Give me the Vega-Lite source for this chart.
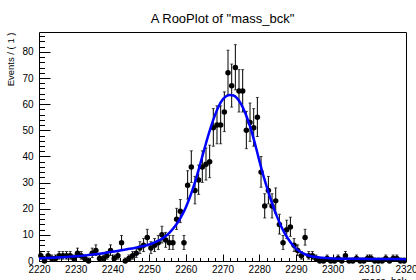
{
  "$schema": "https://vega.github.io/schema/vega-lite/v6.json",
  "width": 367,
  "height": 229,
  "autosize": "none",
  "padding": {"left": 39, "top": 32, "right": 10, "bottom": 19},
  "background": "white",
  "title": {
    "text": "A RooPlot of \"mass_bck\"",
    "font": "Liberation Sans",
    "fontSize": 13,
    "fontWeight": "normal",
    "color": "black",
    "anchor": "middle",
    "frame": "group",
    "baseline": "alphabetic",
    "offset": -4
  },
  "config": {
    "view": {"stroke": "black", "strokeWidth": 1},
    "axis": {
      "domain": false,
      "grid": false,
      "labelFont": "Liberation Sans",
      "labelFontSize": 10,
      "labelColor": "black",
      "tickColor": "black",
      "tickWidth": 1,
      "titleFont": "Liberation Sans",
      "titleFontWeight": "normal",
      "titleColor": "black",
      "labelFlush": false,
      "labelOverlap": false
    }
  },
  "datasets": {
    "pts": [
      {"m": 2220.5, "n": 2, "lo": 0.71, "hi": 3.63},
      {"m": 2221.5, "n": 0, "lo": 0, "hi": 1.15},
      {"m": 2222.5, "n": 2, "lo": 0.71, "hi": 3.63},
      {"m": 2223.5, "n": 1, "lo": 0.17, "hi": 2.3},
      {"m": 2224.5, "n": 1, "lo": 0.17, "hi": 2.3},
      {"m": 2225.5, "n": 2, "lo": 0.71, "hi": 3.63},
      {"m": 2226.5, "n": 2, "lo": 0.71, "hi": 3.63},
      {"m": 2227.5, "n": 2, "lo": 0.71, "hi": 3.63},
      {"m": 2228.5, "n": 2, "lo": 0.71, "hi": 3.63},
      {"m": 2229.5, "n": 1, "lo": 0.17, "hi": 2.3},
      {"m": 2230.5, "n": 3, "lo": 1.37, "hi": 4.92},
      {"m": 2231.5, "n": 2, "lo": 0.71, "hi": 3.63},
      {"m": 2232.5, "n": 1, "lo": 0.17, "hi": 2.3},
      {"m": 2233.5, "n": 0, "lo": 0, "hi": 1.15},
      {"m": 2234.5, "n": 3, "lo": 1.37, "hi": 4.92},
      {"m": 2235.5, "n": 4, "lo": 2.09, "hi": 6.18},
      {"m": 2236.5, "n": 1, "lo": 0.17, "hi": 2.3},
      {"m": 2237.5, "n": 1, "lo": 0.17, "hi": 2.3},
      {"m": 2238.5, "n": 2, "lo": 0.71, "hi": 3.63},
      {"m": 2239.5, "n": 4, "lo": 2.09, "hi": 6.18},
      {"m": 2240.5, "n": 1, "lo": 0.17, "hi": 2.3},
      {"m": 2241.5, "n": 2, "lo": 0.71, "hi": 3.63},
      {"m": 2242.5, "n": 7, "lo": 4.42, "hi": 9.77},
      {"m": 2243.5, "n": 0, "lo": 0, "hi": 1.15},
      {"m": 2244.5, "n": 1, "lo": 0.17, "hi": 2.3},
      {"m": 2245.5, "n": 2, "lo": 0.71, "hi": 3.63},
      {"m": 2246.5, "n": 3, "lo": 1.37, "hi": 4.92},
      {"m": 2247.5, "n": 5, "lo": 2.84, "hi": 7.39},
      {"m": 2248.5, "n": 6, "lo": 3.62, "hi": 8.58},
      {"m": 2249.5, "n": 9, "lo": 6.06, "hi": 12.12},
      {"m": 2250.5, "n": 5, "lo": 2.84, "hi": 7.39},
      {"m": 2251.5, "n": 6, "lo": 3.62, "hi": 8.58},
      {"m": 2252.5, "n": 7, "lo": 4.42, "hi": 9.77},
      {"m": 2253.5, "n": 10, "lo": 6.89, "hi": 13.28},
      {"m": 2254.5, "n": 8, "lo": 5.23, "hi": 10.94},
      {"m": 2255.5, "n": 7, "lo": 4.42, "hi": 9.77},
      {"m": 2256.5, "n": 7, "lo": 4.42, "hi": 9.77},
      {"m": 2257.5, "n": 16, "lo": 12.05, "hi": 20.15},
      {"m": 2258.5, "n": 19, "lo": 14.69, "hi": 23.51},
      {"m": 2259.5, "n": 7, "lo": 4.42, "hi": 9.77},
      {"m": 2260.5, "n": 29, "lo": 23.67, "hi": 34.54},
      {"m": 2261.5, "n": 36, "lo": 30.05, "hi": 42.15},
      {"m": 2262.5, "n": 27, "lo": 21.85, "hi": 32.35},
      {"m": 2263.5, "n": 31, "lo": 25.48, "hi": 36.72},
      {"m": 2264.5, "n": 36, "lo": 30.05, "hi": 42.15},
      {"m": 2265.5, "n": 37, "lo": 30.97, "hi": 43.23},
      {"m": 2266.5, "n": 38, "lo": 31.89, "hi": 44.31},
      {"m": 2267.5, "n": 51, "lo": 43.91, "hi": 58.29},
      {"m": 2268.5, "n": 52, "lo": 44.84, "hi": 59.36},
      {"m": 2269.5, "n": 52, "lo": 44.84, "hi": 59.36},
      {"m": 2270.5, "n": 57, "lo": 49.5, "hi": 64.7},
      {"m": 2271.5, "n": 72, "lo": 63.57, "hi": 80.63},
      {"m": 2272.5, "n": 67, "lo": 58.87, "hi": 75.34},
      {"m": 2273.5, "n": 74, "lo": 65.45, "hi": 82.75},
      {"m": 2274.5, "n": 65, "lo": 56.99, "hi": 73.21},
      {"m": 2275.5, "n": 65, "lo": 56.99, "hi": 73.21},
      {"m": 2276.5, "n": 50, "lo": 42.98, "hi": 57.22},
      {"m": 2277.5, "n": 53, "lo": 45.77, "hi": 60.43},
      {"m": 2278.5, "n": 51, "lo": 43.91, "hi": 58.29},
      {"m": 2279.5, "n": 55, "lo": 47.63, "hi": 62.57},
      {"m": 2280.5, "n": 34, "lo": 28.22, "hi": 39.98},
      {"m": 2281.5, "n": 21, "lo": 16.47, "hi": 25.73},
      {"m": 2282.5, "n": 27, "lo": 21.85, "hi": 32.35},
      {"m": 2283.5, "n": 21, "lo": 16.47, "hi": 25.73},
      {"m": 2284.5, "n": 23, "lo": 18.25, "hi": 27.95},
      {"m": 2285.5, "n": 14, "lo": 10.31, "hi": 17.89},
      {"m": 2286.5, "n": 7, "lo": 4.42, "hi": 9.77},
      {"m": 2287.5, "n": 12, "lo": 8.59, "hi": 15.61},
      {"m": 2288.5, "n": 13, "lo": 9.44, "hi": 16.76},
      {"m": 2289.5, "n": 6, "lo": 3.62, "hi": 8.58},
      {"m": 2290.5, "n": 4, "lo": 2.09, "hi": 6.18},
      {"m": 2291.5, "n": 2, "lo": 0.71, "hi": 3.63},
      {"m": 2292.5, "n": 9, "lo": 6.06, "hi": 12.12},
      {"m": 2293.5, "n": 2, "lo": 0.71, "hi": 3.63},
      {"m": 2294.5, "n": 2, "lo": 0.71, "hi": 3.63},
      {"m": 2295.5, "n": 1, "lo": 0.17, "hi": 2.3},
      {"m": 2296.5, "n": 0, "lo": 0, "hi": 1.15},
      {"m": 2297.5, "n": 0, "lo": 0, "hi": 1.15},
      {"m": 2298.5, "n": 1, "lo": 0.17, "hi": 2.3},
      {"m": 2299.5, "n": 0, "lo": 0, "hi": 1.15},
      {"m": 2300.5, "n": 0, "lo": 0, "hi": 1.15},
      {"m": 2301.5, "n": 1, "lo": 0.17, "hi": 2.3},
      {"m": 2302.5, "n": 0, "lo": 0, "hi": 1.15},
      {"m": 2303.5, "n": 2, "lo": 0.71, "hi": 3.63},
      {"m": 2304.5, "n": 0, "lo": 0, "hi": 1.15},
      {"m": 2305.5, "n": 0, "lo": 0, "hi": 1.15},
      {"m": 2306.5, "n": 1, "lo": 0.17, "hi": 2.3},
      {"m": 2307.5, "n": 0, "lo": 0, "hi": 1.15},
      {"m": 2308.5, "n": 0, "lo": 0, "hi": 1.15},
      {"m": 2309.5, "n": 1, "lo": 0.17, "hi": 2.3},
      {"m": 2310.5, "n": 1, "lo": 0.17, "hi": 2.3},
      {"m": 2311.5, "n": 0, "lo": 0, "hi": 1.15},
      {"m": 2312.5, "n": 0, "lo": 0, "hi": 1.15},
      {"m": 2313.5, "n": 0, "lo": 0, "hi": 1.15},
      {"m": 2314.5, "n": 1, "lo": 0.17, "hi": 2.3},
      {"m": 2315.5, "n": 0, "lo": 0, "hi": 1.15},
      {"m": 2316.5, "n": 1, "lo": 0.17, "hi": 2.3},
      {"m": 2317.5, "n": 1, "lo": 0.17, "hi": 2.3},
      {"m": 2318.5, "n": 0, "lo": 0, "hi": 1.15},
      {"m": 2319.5, "n": 0, "lo": 0, "hi": 1.15}
    ],
    "fit": [
      {"m": 2220, "f": 1.0}, {"m": 2222, "f": 1.1}, {"m": 2224, "f": 1.25},
      {"m": 2226, "f": 1.4}, {"m": 2228, "f": 1.6}, {"m": 2230, "f": 1.8},
      {"m": 2232, "f": 2.05}, {"m": 2234, "f": 2.35}, {"m": 2236, "f": 2.7},
      {"m": 2238, "f": 3.1}, {"m": 2240, "f": 3.5}, {"m": 2242, "f": 4.0},
      {"m": 2244, "f": 4.5}, {"m": 2246, "f": 5.0}, {"m": 2248, "f": 5.6},
      {"m": 2250, "f": 6.3}, {"m": 2251, "f": 6.8}, {"m": 2252, "f": 7.4},
      {"m": 2253, "f": 8.1}, {"m": 2254, "f": 9.0}, {"m": 2255, "f": 10.1},
      {"m": 2256, "f": 11.5}, {"m": 2257, "f": 13.2}, {"m": 2258, "f": 15.2},
      {"m": 2259, "f": 17.6}, {"m": 2260, "f": 20.5}, {"m": 2261, "f": 24.0},
      {"m": 2262, "f": 28.0}, {"m": 2263, "f": 32.5}, {"m": 2264, "f": 37.5},
      {"m": 2265, "f": 42.5}, {"m": 2266, "f": 47.5}, {"m": 2267, "f": 52.0},
      {"m": 2268, "f": 56.0}, {"m": 2269, "f": 59.3}, {"m": 2270, "f": 61.7},
      {"m": 2271, "f": 63.0}, {"m": 2272, "f": 63.5}, {"m": 2273, "f": 63.3},
      {"m": 2274, "f": 62.2}, {"m": 2275, "f": 60.2}, {"m": 2276, "f": 57.3},
      {"m": 2277, "f": 53.6}, {"m": 2278, "f": 49.2}, {"m": 2279, "f": 44.1},
      {"m": 2280, "f": 38.6}, {"m": 2281, "f": 33.3}, {"m": 2282, "f": 28.6},
      {"m": 2283, "f": 24.2}, {"m": 2284, "f": 20.1}, {"m": 2285, "f": 16.5},
      {"m": 2286, "f": 13.2}, {"m": 2287, "f": 10.5}, {"m": 2288, "f": 8.2},
      {"m": 2289, "f": 6.3}, {"m": 2290, "f": 4.8}, {"m": 2291, "f": 3.7},
      {"m": 2292, "f": 2.9}, {"m": 2293, "f": 2.3}, {"m": 2294, "f": 1.9},
      {"m": 2295, "f": 1.6}, {"m": 2296, "f": 1.4}, {"m": 2297, "f": 1.25},
      {"m": 2298, "f": 1.15}, {"m": 2300, "f": 1.0}, {"m": 2305, "f": 0.88},
      {"m": 2310, "f": 0.8}, {"m": 2315, "f": 0.75}, {"m": 2320, "f": 0.7}
    ]
  },
  "resolve": {"axis": {"x": "independent", "y": "independent"}},
  "layer": [
    {
      "data": {"name": "pts"},
      "mark": {"type": "rule", "color": "black", "strokeWidth": 1},
      "encoding": {
        "x": {
          "field": "m", "type": "quantitative",
          "scale": {"domain": [2220, 2320], "nice": false, "zero": false},
          "axis": {
            "orient": "bottom",
            "values": [2220, 2230, 2240, 2250, 2260, 2270, 2280, 2290, 2300, 2310, 2320],
            "format": "d",
            "tickSize": -7,
            "labelPadding": 10,
            "title": "mass_bck",
            "titleFontSize": 10,
            "titleAnchor": "end",
            "titleAlign": "right",
            "titlePadding": 2
          }
        },
        "y": {
          "field": "lo", "type": "quantitative",
          "scale": {"domain": [0, 87.6], "nice": false, "zero": true},
          "axis": {
            "orient": "left",
            "values": [0, 10, 20, 30, 40, 50, 60, 70, 80],
            "tickSize": -11,
            "labelPadding": 17,
            "title": "Events / ( 1 )",
            "titleFontSize": 9.5,
            "titleAnchor": "end",
            "titlePadding": 6
          }
        },
        "y2": {"field": "hi"}
      }
    },
    {
      "data": {"name": "pts"},
      "mark": {"type": "tick", "orient": "horizontal", "size": 3, "thickness": 1, "color": "black"},
      "encoding": {
        "x": {"field": "m", "type": "quantitative", "axis": null},
        "y": {"field": "lo", "type": "quantitative", "axis": null}
      }
    },
    {
      "data": {"name": "pts"},
      "mark": {"type": "tick", "orient": "horizontal", "size": 3, "thickness": 1, "color": "black"},
      "encoding": {
        "x": {"field": "m", "type": "quantitative", "axis": null},
        "y": {"field": "hi", "type": "quantitative", "axis": null}
      }
    },
    {
      "data": {"name": "pts"},
      "mark": {"type": "circle", "size": 30, "color": "black", "opacity": 1},
      "encoding": {
        "x": {
          "field": "m", "type": "quantitative",
          "axis": {
            "orient": "bottom",
            "values": [2222, 2224, 2226, 2228, 2232, 2234, 2236, 2238, 2242, 2244, 2246, 2248, 2252, 2254, 2256, 2258, 2262, 2264, 2266, 2268, 2272, 2274, 2276, 2278, 2282, 2284, 2286, 2288, 2292, 2294, 2296, 2298, 2302, 2304, 2306, 2308, 2312, 2314, 2316, 2318],
            "tickSize": -3.5,
            "labels": false,
            "title": null
          }
        },
        "y": {
          "field": "n", "type": "quantitative",
          "axis": {
            "orient": "left",
            "values": [2, 4, 6, 8, 12, 14, 16, 18, 22, 24, 26, 28, 32, 34, 36, 38, 42, 44, 46, 48, 52, 54, 56, 58, 62, 64, 66, 68, 72, 74, 76, 78, 82, 84, 86],
            "tickSize": -5.5,
            "labels": false,
            "title": null
          }
        }
      }
    },
    {
      "data": {"name": "fit"},
      "mark": {"type": "line", "color": "#0000ff", "strokeWidth": 2.5, "interpolate": "monotone"},
      "encoding": {
        "x": {"field": "m", "type": "quantitative", "axis": null},
        "y": {"field": "f", "type": "quantitative", "axis": null}
      }
    }
  ]
}
